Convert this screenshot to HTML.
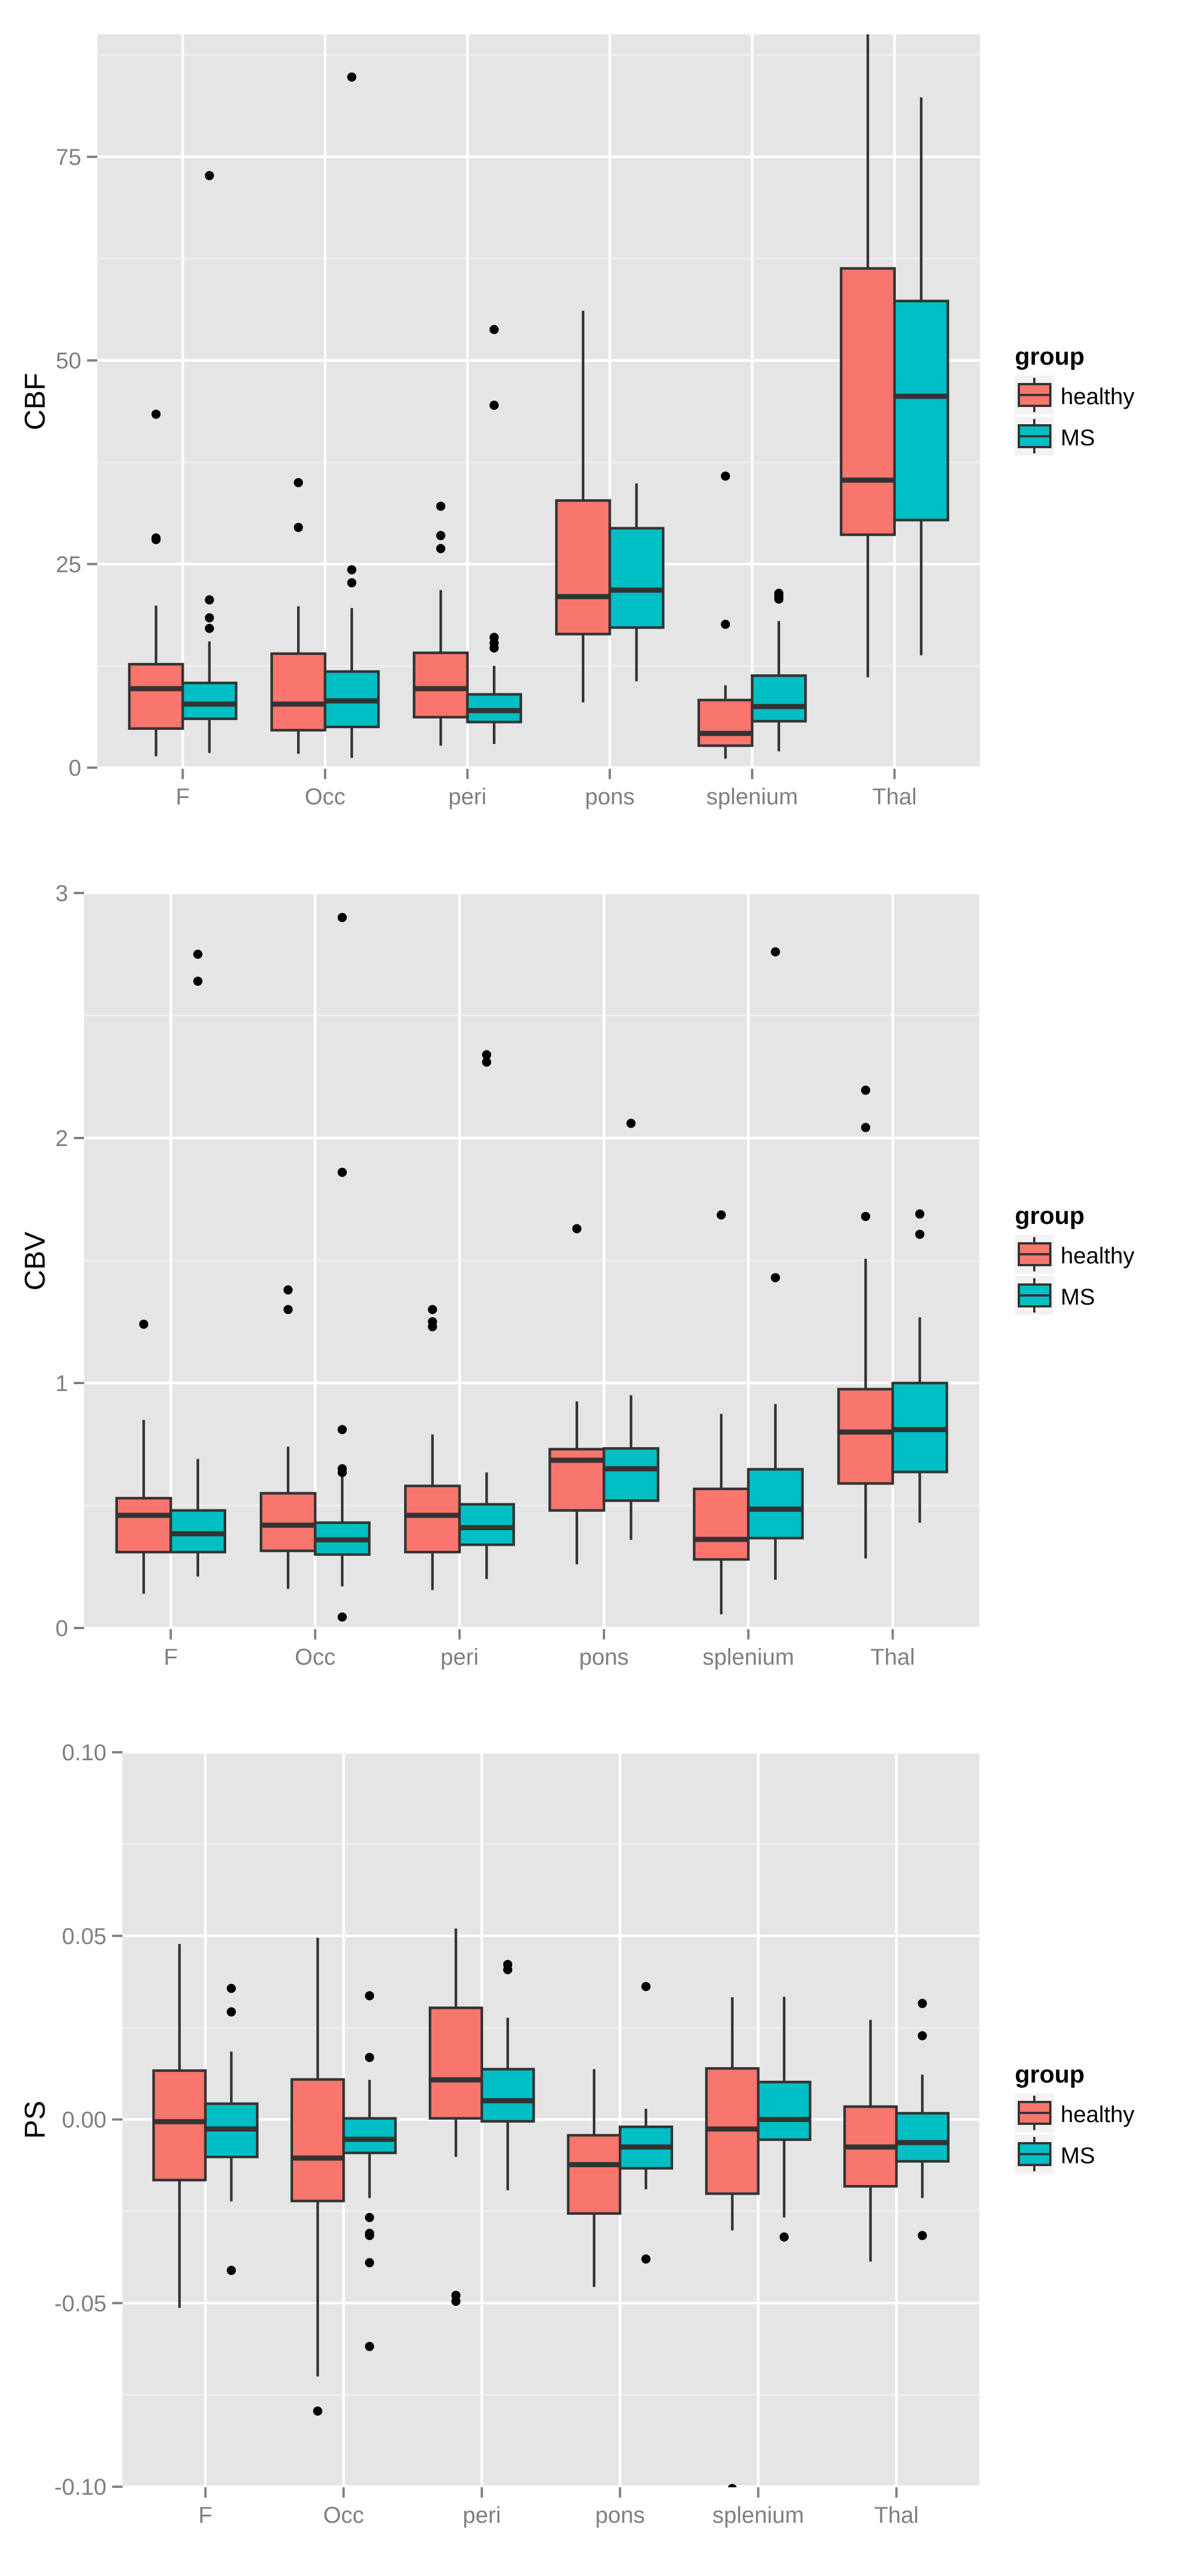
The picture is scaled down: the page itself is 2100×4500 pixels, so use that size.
<!DOCTYPE html>
<html><head><meta charset="utf-8"><title>CBF CBV PS boxplots</title>
<style>html,body{margin:0;padding:0;background:#fff}svg{display:block}</style></head>
<body>
<svg id="chart" xmlns="http://www.w3.org/2000/svg" width="2100" height="4500" viewBox="0 0 2100 4500" font-family="Liberation Sans, sans-serif"></svg>
<script>
const categories = ["F","Occ","peri","pons","splenium","Thal"];
const groups = ["healthy","MS"];
const fills = ["#F8766D","#00BFC4"];
// stats: [whiskerLow, Q1, median, Q3, whiskerHigh]
const cbfHealthy = [[1.4,4.8,9.7,12.7,19.9],[1.7,4.6,7.8,14.0,19.8],[2.7,6.2,9.7,14.1,21.8],[8.0,16.4,21.0,32.8,56.1],[1.1,2.7,4.2,8.3,10.1],[11.1,28.6,35.3,61.3,91]];
const cbfMS = [[1.8,6.0,7.8,10.4,15.5],[1.2,5.0,8.2,11.8,19.6],[2.9,5.6,7.0,9.0,12.5],[10.6,17.2,21.8,29.4,34.9],[2.0,5.7,7.5,11.3,18.0],[13.8,30.4,45.6,57.3,82.3]];
const cbfHealthyOut = [[43.4,28.0,28.2],[35.0,29.5],[32.1,28.5,26.9],[],[35.8,17.6],[]];
const cbfMSOut = [[72.7,20.6,18.4,17.1],[84.8,24.3,22.7],[53.8,44.5,16.0,15.3,14.7],[],[21.4,21.1,20.7],[]];
const cbvHealthy = [[0.14,0.31,0.46,0.53,0.85],[0.16,0.315,0.42,0.55,0.74],[0.155,0.31,0.46,0.58,0.79],[0.26,0.48,0.685,0.73,0.925],[0.056,0.28,0.362,0.568,0.874],[0.284,0.59,0.80,0.975,1.507]];
const cbvMS = [[0.21,0.31,0.385,0.48,0.69],[0.17,0.30,0.36,0.43,0.63],[0.20,0.34,0.41,0.505,0.635],[0.36,0.52,0.65,0.733,0.95],[0.197,0.367,0.485,0.648,0.914],[0.43,0.637,0.81,1.0,1.268]];
const cbvHealthyOut = [[1.24],[1.38,1.30],[1.30,1.25,1.23],[1.63],[1.686],[2.195,2.043,1.68]];
const cbvMSOut = [[2.75,2.64],[2.90,1.86,0.81,0.65,0.635,0.045],[2.34,2.31],[2.06],[2.76,1.43],[1.69,1.607]];
const psHealthy = [[-0.0513,-0.0165,-0.0006,0.0133,0.0478],[-0.070,-0.0222,-0.0105,0.0109,0.0495],[-0.0102,0.0003,0.0108,0.0304,0.052],[-0.0456,-0.0256,-0.0123,-0.0043,0.0137],[-0.0302,-0.0202,-0.0026,0.0139,0.0333],[-0.0387,-0.0182,-0.0075,0.0035,0.0271]];
const psMS = [[-0.0223,-0.0102,-0.0026,0.0043,0.0185],[-0.0214,-0.0091,-0.0054,0.0003,0.0108],[-0.0193,-0.0005,0.0051,0.0137,0.0277],[-0.019,-0.0133,-0.0075,-0.002,0.0029],[-0.0267,-0.0055,0.0,0.0102,0.0334],[-0.0214,-0.0114,-0.0063,0.0017,0.0122]];
const psHealthyOut = [[],[-0.0794],[-0.0479,-0.0495],[],[-0.1005],[]];
const psMSOut = [[0.0357,0.0293,-0.0411],[0.0337,0.0169,-0.0267,-0.031,-0.0316,-0.039,-0.0618],[0.0422,0.0408],[0.0362,-0.038],[-0.032],[0.0316,0.0228,-0.0316]];
const cbfTicks = ["0","25","50","75"], cbfTickVals=[0,25,50,75], cbfMinor=[12.5,37.5,62.5,87.5];
const cbvTicks = ["0","1","2","3"], cbvTickVals=[0,1,2,3], cbvMinor=[0.5,1.5,2.5];
const psTicks = ["-0.10","-0.05","0.00","0.05","0.10"], psTickVals=[-0.1,-0.05,0,0.05,0.1], psMinor=[-0.075,-0.025,0.025,0.075];

const NS="http://www.w3.org/2000/svg";
const svg=document.getElementById('chart');
function mk(tag,attrs,parent){const e=document.createElementNS(NS,tag);for(const k in attrs)e.setAttribute(k,attrs[k]);(parent||svg).appendChild(e);return e;}

const panels=[
 {title:"CBF",left:170,right:1712,top:60,bottom:1343,y0:1341,v0:0,y1:274,v1:75,stats:[cbfHealthy,cbfMS],outs:[cbfHealthyOut,cbfMSOut],ticks:cbfTicks,tickVals:cbfTickVals,minor:cbfMinor,legendY:637},
 {title:"CBV",left:147,right:1711,top:1560,bottom:2846,y0:2844,v0:0,y1:1560,v1:3,stats:[cbvHealthy,cbvMS],outs:[cbvHealthyOut,cbvMSOut],ticks:cbvTicks,tickVals:cbvTickVals,minor:cbvMinor,legendY:2138},
 {title:"PS",left:214,right:1711,top:3061,bottom:4345,y0:4344,v0:-0.1,y1:3061,v1:0.1,stats:[psHealthy,psMS],outs:[psHealthyOut,psMSOut],ticks:psTicks,tickVals:psTickVals,minor:psMinor,legendY:3638}
];

panels.forEach((p,pi)=>{
 const g=mk('g',{});
 
 
 const sp=(p.right-p.left)/6.2;
 const xs=i=>p.left+sp*(0.6+i);
 const ys=v=>p.y0+(v-p.v0)*(p.y1-p.y0)/(p.v1-p.v0);
 const bg=mk('rect',{x:p.left,y:p.top,width:p.right-p.left,height:p.bottom-p.top,fill:'#e5e5e5'},g);
 
 
 const cid='clip'+pi;
 const cp=mk('clipPath',{id:cid},g);mk('rect',{x:p.left,y:p.top,width:p.right-p.left,height:p.bottom-p.top},cp);
 const inner=mk('g',{'clip-path':'url(#'+cid+')'},g);
 p.minor.forEach(v=>{const l=mk('line',{x1:p.left,x2:p.right,y1:ys(v),y2:ys(v),stroke:'#f2f2f2','stroke-width':2.5},inner);
  });
 p.tickVals.forEach(v=>{const l=mk('line',{x1:p.left,x2:p.right,y1:ys(v),y2:ys(v),stroke:'#fff','stroke-width':4.5},inner);
  });
 categories.forEach((c,i)=>{const l=mk('line',{x1:xs(i),x2:xs(i),y1:p.top,y2:p.bottom,stroke:'#fff','stroke-width':4.5},inner);
  });
 const bw=sp*0.375;
 categories.forEach((c,i)=>{
  [0,1].forEach(gi=>{
   const s=p.stats[gi][i];const cx=xs(i)+(gi===0?-1:1)*bw/2;
   const bg2=mk('g',{},inner);
   
   
   mk('line',{x1:cx,x2:cx,y1:ys(s[4]),y2:ys(s[3]),stroke:'#333','stroke-width':4.5},bg2);
   mk('line',{x1:cx,x2:cx,y1:ys(s[1]),y2:ys(s[0]),stroke:'#333','stroke-width':4.5},bg2);
   mk('rect',{x:cx-bw/2,y:ys(s[3]),width:bw,height:ys(s[1])-ys(s[3]),fill:fills[gi],stroke:'#333','stroke-width':4.5},bg2);
   mk('line',{x1:cx-bw/2,x2:cx+bw/2,y1:ys(s[2]),y2:ys(s[2]),stroke:'#333','stroke-width':9},bg2);
   p.outs[gi][i].forEach(v=>{const d=mk('circle',{cx:cx,cy:ys(v),r:8,fill:'#000'},bg2);
    });
  });
 });
 // y axis ticks
 p.ticks.forEach((t,k)=>{const y=ys(p.tickVals[k]);
  mk('line',{x1:p.left-18,x2:p.left,y1:y,y2:y,stroke:'#7f7f7f','stroke-width':4},g);
  const tx=mk('text',{x:p.left-28,y:y+14,'text-anchor':'end','font-size':40,fill:'#7f7f7f'},g);tx.textContent=t;
  });
 categories.forEach((c,i)=>{const x=xs(i);
  mk('line',{x1:x,x2:x,y1:p.bottom,y2:p.bottom+18,stroke:'#7f7f7f','stroke-width':4},g);
  const tx=mk('text',{x:x,y:p.bottom+62,'text-anchor':'middle','font-size':40,fill:'#7f7f7f'},g);tx.textContent=c;
  });
 const cy=(p.top+p.bottom)/2;
 const yt=mk('text',{x:0,y:0,transform:'translate(78,'+cy+') rotate(-90)','text-anchor':'middle','font-size':50,fill:'#000'},g);
 yt.textContent=p.title;
 // legend
 const lg=mk('g',{},g);
 const lt=mk('text',{x:1773,y:p.legendY,'font-size':43,'font-weight':'bold',fill:'#000'},lg);lt.textContent='group';
 
 groups.forEach((gn,gi)=>{
  const ky=p.legendY+19+gi*72;
  const e=mk('g',{},lg);
  mk('rect',{x:1773,y:ky,width:68,height:68,fill:'#f2f2f2'},e);
  mk('line',{x1:1807,x2:1807,y1:ky+4,y2:ky+64,stroke:'#333','stroke-width':4},e);
  mk('rect',{x:1780,y:ky+15,width:55,height:38,fill:fills[gi],stroke:'#333','stroke-width':4},e);
  mk('line',{x1:1780,x2:1835,y1:ky+34,y2:ky+34,stroke:'#333','stroke-width':4},e);
  const t=mk('text',{x:1853,y:ky+50,'font-size':40,fill:'#000'},e);t.textContent=gn;
 });
});
</script>
</body></html>
